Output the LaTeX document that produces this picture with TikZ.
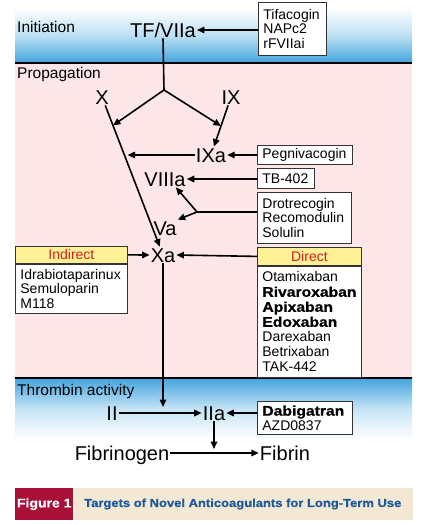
\documentclass[tikz,border=0pt]{standalone}
\usepackage{fontspec}
\setmainfont{Liberation Sans}
\newfontfamily\heavy{Liberation Sans}[FakeStretch=1.12,FakeBold=0.8]
\usetikzlibrary{arrows.meta,calc}
\definecolor{bandblue}{RGB}{66,165,222}
\definecolor{pinkbg}{RGB}{252,230,232}
\definecolor{hdyellow}{RGB}{255,241,150}
\definecolor{hdred}{RGB}{208,32,30}
\definecolor{capred}{RGB}{168,16,56}
\definecolor{capbeige}{RGB}{242,232,212}
\definecolor{capblue}{RGB}{30,90,155}
\begin{document}
\begin{tikzpicture}[x=1bp,y=-1bp,
  drug/.style={draw=black!80,fill=white,line width=0.8bp,anchor=north west,align=left,inner xsep=5bp,inner ysep=2bp,font=\fontsize{14bp}{14.5bp}\selectfont},
  head/.style={draw=black!80,fill=hdyellow,text=hdred,line width=0.8bp,anchor=north west,inner sep=0pt,font=\fontsize{14bp}{14.5bp}\selectfont},
  factor/.style={inner sep=1bp,text height=14.3bp,text depth=0bp,font=\fontsize{20bp}{20bp}\selectfont},
  phase/.style={anchor=west,inner sep=0pt,font=\fontsize{15.5bp}{16bp}\selectfont},
  act/.style={line width=1.6bp,-{Triangle[length=7.5bp,width=6.5bp]}}]
\useasboundingbox (0,0) rectangle (421,525);
% background bands
\shade[top color=white,bottom color=bandblue,middle color=bandblue!35] (15,8) rectangle (412,63);
\fill[pinkbg] (15,63) rectangle (412,378);
\shade[top color=bandblue,bottom color=white,middle color=bandblue!30] (15,378) rectangle (412,440);
\draw[line width=2bp] (15,63) -- (412,63) (15,378) -- (412,378);
\node[phase] (initiation) at (17,27) {Initiation};
\node[phase] (propagation) at (17,74) {Propagation};
\node[phase] (thrombin) at (17,391) {Thrombin activity};

% factors
\node[factor] (tf) at (163,30) {TF/VIIa};
\node[factor] (x) at (102,97) {X};
\node[factor] (ix) at (231,97) {IX};
\node[factor] (ixa) at (211,155) {IXa};
\node[factor] (viiia) at (165,179) {VIIIa};
\node[factor] (va) at (165,228) {Va};
\node[factor] (xa) at (163,255) {Xa};
\node[factor] (ii) at (112,413) {II};
\node[factor] (iia) at (214,413) {IIa};
\node[factor] (fbg) at (122,453) {Fibrinogen};
\node[factor] (fbn) at (285,453) {Fibrin};

% drug boxes
\node[drug,text width=58bp,minimum height=53bp] (tfbox) at (258,2) {Tifacogin\\NAPc2\\rFVIIai};
\node[drug,text width=85bp,minimum height=19bp] (pegbox) at (257,145) {Pegnivacogin};
\node[drug,text width=47bp,minimum height=20bp] (tbbox) at (257,168) {TB-402};
\node[drug,text width=84bp,minimum height=51bp] (drobox) at (257,192) {Drotrecogin\\Recomodulin\\Solulin};
\node[head,minimum width=112bp,minimum height=17bp] (indhead) at (15,246) {Indirect};
\node[drug,text width=102bp,minimum height=49bp] (indbody) at (indhead.south west) {Idrabiotaparinux\\Semuloparin\\M118};
\node[head,minimum width=104bp,minimum height=18bp] (dirhead) at (257,247) {Direct};
\node[drug,text width=94bp,minimum height=111bp,font=\fontsize{14bp}{15bp}\selectfont] (dirbody) at (dirhead.south west) {Otamixaban\\{\heavy\bfseries Rivaroxaban}\\{\heavy\bfseries Apixaban}\\{\heavy\bfseries Edoxaban}\\Darexaban\\Betrixaban\\TAK-442};
\node[drug,text width=85bp,minimum height=33bp] (dabbox) at (257,401) {{\heavy\bfseries Dabigatran}\\AZD0837};

% cascade
\coordinate (split) at (164,90);
\coordinate (split2) at (197,212);
\coordinate (hitx) at ($(x)!0.18!(xa)$);
\coordinate (hitix) at ($(ix)!0.5!(ixa)$);
\coordinate (hitixa) at ($(x)!0.37!(xa)$);
\draw[line width=1.6bp] (tf.south) -- (split);
\draw[act] (split) -- (hitx);
\draw[act] (split) -- (hitix);
\draw[act] (x) -- (xa);
\draw[act] (ix) -- (ixa);
\draw[act] (ixa.west) -- ([xshift=3bp]hitixa |- ixa.west);
\draw[act] (indhead.east) -- (xa.west);
\draw[act] (xa.south) -- ([yshift=6bp]xa.south |- ii);
\draw[act] (ii.east) -- (iia.west);
\draw[act] (iia.south) -- ([yshift=4bp]iia.south |- fbg);
\draw[act] (fbg.east) -- (fbn.west);

% inhibitors
\draw[act] (tfbox.west |- tf.east) -- (tf.east);
\draw[act] (pegbox.west |- ixa.east) -- (ixa.east);
\draw[act] (tbbox.west |- viiia.east) -- (viiia.east);
\draw[line width=1.6bp] (drobox.west |- split2) -- (split2);
\draw[act] (split2) -- ($(viiia.south)!0.5!(viiia.south east)$);
\draw[act] (split2) -- (va.north east);
\draw[act] (dirhead.west) -- (xa.east);
\draw[act] (dabbox.west |- iia.east) -- (iia.east);

% caption
\node[fill=capred,text=white,minimum width=58bp,minimum height=32bp,anchor=north west,inner sep=0pt,font=\heavy\bfseries\fontsize{12.5bp}{12.5bp}\selectfont] (figlabel) at (15,488) {Figure 1};
\node[fill=capbeige,minimum width=339bp,minimum height=32bp,anchor=north west,inner sep=0pt] (capbar) at (figlabel.north east) {};
\node[anchor=west,inner sep=0pt,text=capblue,font=\heavy\bfseries\fontsize{11.6bp}{12bp}\selectfont] (caption) at (84,504) {Targets of Novel Anticoagulants for Long-Term Use};
\end{tikzpicture}
\end{document}
